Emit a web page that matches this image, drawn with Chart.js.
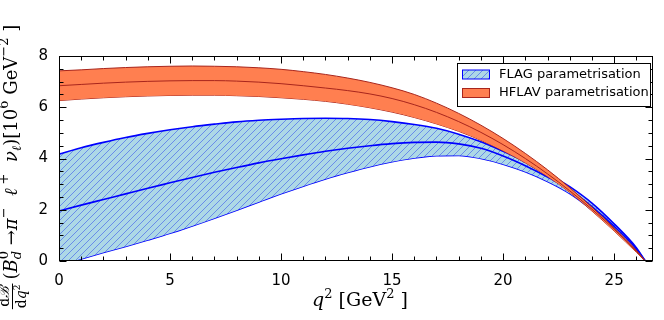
<!DOCTYPE html>
<html>
<head>
<meta charset="utf-8">
<script src="https://cdn.jsdelivr.net/npm/chart.js@4.4.0/dist/chart.umd.min.js"></script>
<style>html,body{margin:0;padding:0;background:#fff}</style>
</head>
<body>
<canvas id="c" width="664" height="320"></canvas>
<script>
// q^2 grid in GeV^2
const q2 = [0,1,2,3,4,5,6,7,8,9,10,11,12,13,14,15,16,17,18,19,20,21,22,23,24,25,26,26.4];

// FLAG parametrisation band (lower / central / upper), 10^6 GeV^-2
const flagLow = [-0.16,0.08,0.33,0.57,0.82,1.08,1.37,1.67,1.98,2.3,2.62,2.92,3.2,3.45,3.68,3.87,4.02,4.11,4.12,4.0,3.78,3.48,3.1,2.63,2.0,1.27,0.43,0];
const flagMid = [1.95,2.18,2.4,2.62,2.84,3.05,3.26,3.46,3.65,3.83,3.99,4.14,4.28,4.4,4.5,4.58,4.63,4.64,4.57,4.4,4.1,3.72,3.28,2.78,2.12,1.35,0.47,0];
const flagUp  = [4.17,4.42,4.63,4.82,4.98,5.12,5.24,5.34,5.43,5.49,5.53,5.56,5.57,5.56,5.52,5.44,5.33,5.18,4.95,4.65,4.28,3.88,3.42,2.9,2.26,1.45,0.52,0];

// HFLAV parametrisation band
const hflavLow = [6.26,6.32,6.37,6.41,6.44,6.46,6.47,6.47,6.45,6.42,6.37,6.31,6.23,6.12,5.98,5.81,5.6,5.35,5.06,4.71,4.3,3.83,3.3,2.68,1.95,1.17,0.34,0];
const hflavMid = [6.84,6.89,6.94,6.98,7.01,7.03,7.04,7.04,7.02,6.98,6.92,6.84,6.75,6.65,6.52,6.34,6.1,5.8,5.44,5.02,4.54,4.0,3.4,2.74,2.02,1.24,0.38,0];
const hflavUp  = [7.42,7.46,7.51,7.55,7.58,7.6,7.61,7.6,7.58,7.54,7.48,7.39,7.28,7.14,6.97,6.76,6.5,6.16,5.76,5.3,4.78,4.2,3.56,2.86,2.1,1.29,0.42,0];

const xTicks = [0,5,10,15,20,25];
const yTicks = [0,2,4,6,8];
const legendLabels = ['FLAG parametrisation','HFLAV parametrisation'];

const BLUE = '#0000ff';
const RED = '#a8251c';
const CORAL = '#ff7f50';

function pts(ys){ return q2.map((q,i)=>({x:q, y:ys[i]})); }

function makeHatch(){
  const s = 7;
  const c = document.createElement('canvas');
  c.width = s; c.height = s;
  const g = c.getContext('2d');
  g.fillStyle = '#add8e6';
  g.fillRect(0,0,s,s);
  g.strokeStyle = 'rgba(60,90,235,0.6)';
  g.lineWidth = 1;
  g.beginPath();
  g.moveTo(-1,s+1); g.lineTo(s+1,-1);
  g.moveTo(-1,1); g.lineTo(1,-1);
  g.moveTo(s-1,s+1); g.lineTo(s+1,s-1);
  g.stroke();
  return g.createPattern(c,'repeat');
}
const hatch = makeHatch();

// draw a run of text pieces: [text, font, dy, noAdvance]
function textRun(ctx, parts, x, y, draw){
  let w = 0;
  for (const p of parts){
    ctx.font = p[1];
    if (draw) ctx.fillText(p[0], x + w, y + (p[2]||0));
    if (!p[3]) w += ctx.measureText(p[0]).width;
  }
  return w;
}

const SERIF = '"DejaVu Serif"';
const frameAndLabels = {
  id: 'frameAndLabels',
  afterDraw(chart){
    const {ctx, chartArea:a, scales:{x, y}} = chart;
    ctx.save();
    ctx.strokeStyle = '#000';
    ctx.lineWidth = 1;
    const L = Math.round(a.left)+0.5, R = Math.round(a.right)-0.5;
    const T = Math.round(a.top)+0.5, B = Math.round(a.bottom)-0.5;
    ctx.strokeRect(L, T, R-L, B-T);

    // inward ticks on all four sides
    ctx.beginPath();
    for (let v = 0; v <= 26; v++){
      const px = Math.round(x.getPixelForValue(v))+0.5;
      const len = (v % 5 === 0) ? 7 : 4;
      ctx.moveTo(px, B); ctx.lineTo(px, B-len);
      ctx.moveTo(px, T); ctx.lineTo(px, T+len);
    }
    for (let v = 0; v <= 8; v += 0.5){
      const py = Math.round(y.getPixelForValue(v))+0.5;
      const len = (v % 2 === 0) ? 7 : 4;
      ctx.moveTo(L, py); ctx.lineTo(L+len, py);
      ctx.moveTo(R, py); ctx.lineTo(R-len, py);
    }
    ctx.stroke();

    // legend
    const lx = 457.5, ly = 63.5, lw = 193, lh = 43;
    ctx.fillStyle = '#fff';
    ctx.fillRect(lx, ly, lw, lh);
    ctx.strokeStyle = '#000';
    ctx.strokeRect(lx, ly, lw, lh);
    const rows = [
      {fill: hatch, edge: BLUE, cy: 74.5},
      {fill: CORAL, edge: RED, cy: 93}
    ];
    rows.forEach((r,i)=>{
      ctx.fillStyle = r.fill;
      ctx.fillRect(462, r.cy-4.5, 28, 9);
      ctx.strokeStyle = r.edge;
      ctx.lineWidth = 1;
      ctx.strokeRect(462.5, r.cy-4.5, 27, 9);
      ctx.fillStyle = '#000';
      ctx.font = '13px "DejaVu Sans"';
      ctx.textBaseline = 'middle';
      ctx.fillText(legendLabels[i], 499, r.cy);
    });

    // x axis title
    ctx.fillStyle = '#000';
    ctx.textBaseline = 'alphabetic';
    const xt = [
      ['q', 'italic 19px '+SERIF, 0],
      ['2', '13px '+SERIF, -8],
      [' [GeV', '19px '+SERIF, 0],
      ['2', '13px '+SERIF, -8],
      [' ]', '19px '+SERIF, 0]
    ];
    const xw = textRun(ctx, xt, 0, 0, false);
    textRun(ctx, xt, (a.left+a.right)/2 - xw/2 + 4, 306, true);

    // y axis title (rotated)
    const fs = '18px '+SERIF, fi = 'italic 18px '+SERIF;
    const ss = '13px '+SERIF, si = 'italic 13px '+SERIF;
    const yt = [
      ['(', fs, 0], ['B', fi, 0], ['0', ss, -9, true], ['d', si, 4],
      [' \u2192', fs, 0], ['\u03c0', fi, 0], ['\u2212', ss, -9],
      ['  \u2113', fi, 0], [' +', ss, -9],
      ['  \u03bd', fi, 0], ['\u2113', si, 4], [')', fs, 0],
      ['[10', fs, 0], ['6', ss, -9], [' GeV', fs, 0], ['\u22122', ss, -9], [' ]', fs, 0]
    ];
    const np = [['d', '14px '+SERIF, 0], ['\u212c', 'italic 14px '+SERIF, 0]];
    const dp = [['d', '14px '+SERIF, 0], ['q', 'italic 14px '+SERIF, 0], ['2', '9px '+SERIF, -6]];
    const nw = textRun(ctx, np, 0, 0, false);
    const dw = textRun(ctx, dp, 0, 0, false);
    const fracW = Math.max(nw, dw) + 2;
    const mainW = textRun(ctx, yt, 0, 0, false);
    const total = fracW + 4 + mainW;
    ctx.translate(17, 167 + total/2);
    ctx.rotate(-Math.PI/2);
    // fraction
    textRun(ctx, np, fracW/2 - nw/2, -8, true);
    textRun(ctx, dp, fracW/2 - dw/2, 9, true);
    ctx.fillRect(0, -5, fracW, 1);
    textRun(ctx, yt, fracW + 4, 0, true);
    ctx.restore();
  }
};

function lineDs(data, color, width, order, fill, bg){
  return {
    data: pts(data), borderColor: color, borderWidth: width,
    pointRadius: 0, cubicInterpolationMode: 'monotone',
    fill: fill || false, backgroundColor: bg || 'transparent', order: order
  };
}

new Chart(document.getElementById('c'), {
  type: 'line',
  data: {
    datasets: [
      lineDs(hflavMid, RED, 1, 1),
      lineDs(hflavUp, RED, 1, 1, '+1', CORAL),
      lineDs(hflavLow, RED, 1, 1),
      lineDs(flagMid, BLUE, 1.6, 2),
      lineDs(flagUp, BLUE, 1.6, 2, '+1', hatch),
      lineDs(flagLow, BLUE, 1.6, 2)
    ]
  },
  options: {
    responsive: false,
    animation: false,
    events: [],
    layout: {padding: {top: 56, right: 11, left: 0, bottom: 0}},
    plugins: {legend: {display: false}, tooltip: {enabled: false}},
    scales: {
      x: {
        type: 'linear', min: 0, max: 26.75,
        grid: {display: false}, border: {display: false},
        afterFit(s){ s.height = 59; },
        afterBuildTicks(s){ s.ticks = xTicks.map(v=>({value:v})); },
        ticks: {color: '#000', font: {family: 'DejaVu Sans', size: 15}, padding: 3, maxRotation: 0, autoSkip: false}
      },
      y: {
        min: 0, max: 8,
        grid: {display: false}, border: {display: false},
        afterFit(s){ s.width = 59; },
        afterBuildTicks(s){ s.ticks = yTicks.map(v=>({value:v})); },
        ticks: {color: '#000', font: {family: 'DejaVu Sans', size: 15}, padding: 3}
      }
    }
  },
  plugins: [frameAndLabels]
});
</script>
</body>
</html>
